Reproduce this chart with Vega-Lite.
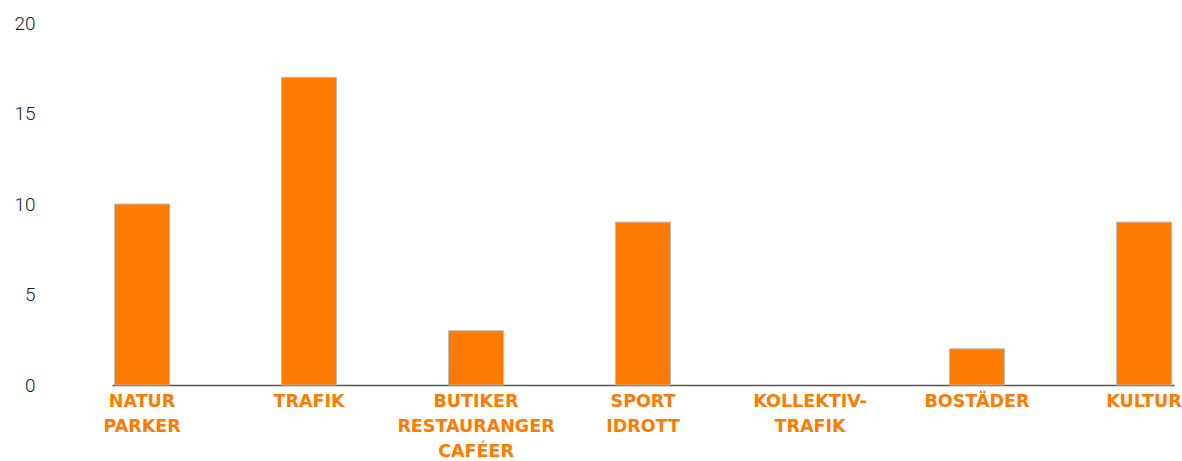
{
  "$schema": "https://vega.github.io/schema/vega-lite/v6.json",
  "width": 1062,
  "height": 362,
  "autosize": {"type": "none"},
  "padding": {"left": 112, "top": 23, "right": 8, "bottom": 76},
  "background": "#ffffff",
  "data": {
    "values": [
      {"kategori": "NATUR|PARKER", "antal": 10},
      {"kategori": "TRAFIK", "antal": 17},
      {"kategori": "BUTIKER|RESTAURANGER|CAFÉER", "antal": 3},
      {"kategori": "SPORT|IDROTT", "antal": 9},
      {"kategori": "KOLLEKTIV-|TRAFIK", "antal": 0},
      {"kategori": "BOSTÄDER", "antal": 2},
      {"kategori": "KULTUR", "antal": 9}
    ]
  },
  "config": {
    "view": {"stroke": null},
    "axis": {"grid": false}
  },
  "mark": {"type": "bar", "color": "#FF7B00", "stroke": "#BDBDBD", "strokeWidth": 1},
  "encoding": {
    "x": {
      "field": "kategori",
      "type": "nominal",
      "sort": null,
      "scale": {"paddingInner": 0.67, "paddingOuter": 0.015},
      "axis": {
        "title": null,
        "labelAngle": 0,
        "ticks": false,
        "domain": true,
        "domainColor": "#555555",
        "domainWidth": 1.5,
        "labelExpr": "split(datum.label, '|')",
        "labelColor": "#FF7B00",
        "labelFont": "DejaVu Sans",
        "labelFontWeight": "bold",
        "labelFontSize": 17.5,
        "labelLineHeight": 25,
        "labelPadding": 7,
        "labelBaseline": "top",
        "labelLimit": 300
      }
    },
    "y": {
      "field": "antal",
      "type": "quantitative",
      "scale": {"domain": [0, 20], "nice": false},
      "axis": {
        "title": null,
        "values": [0, 5, 10, 15, 20],
        "domain": false,
        "ticks": false,
        "tickSize": 0,
        "labelPadding": 77,
        "labelFont": "Roboto",
        "labelFontWeight": 300,
        "labelFontSize": 19,
        "labelColor": "#222222",
        "labelAlign": "right",
        "labelBaseline": "middle"
      }
    },
    "strokeOpacity": {
      "condition": {"test": "datum.antal == 0", "value": 0},
      "value": 1
    }
  }
}
